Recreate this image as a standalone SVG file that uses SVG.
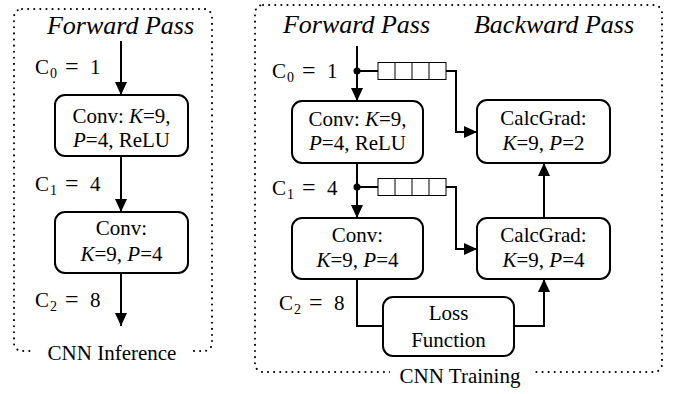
<svg xmlns="http://www.w3.org/2000/svg" width="678" height="394" viewBox="0 0 678 394" font-family="'Liberation Serif', 'Times New Roman', Times, serif">
  <style>
    text { fill: #000; }
    .head { font-size: 26px; font-style: italic; text-anchor: middle; }
    .cap { font-size: 21px; text-anchor: middle; }
    .lbl { font-size: 21px; }
    .sub { font-size: 14px; }
    .eq { font-size: 24px; }
    .box rect { fill: #fff; stroke: #000; stroke-width: 2; }
    .box text { font-size: 21px; text-anchor: middle; }
    .it { font-style: italic; }
    .frame { fill: none; stroke: #000; stroke-width: 2; stroke-dasharray: 0.1 6; stroke-linecap: round; }
    .wire { fill: none; stroke: #000; stroke-width: 2; }
    .arrow { marker-end: url(#head); }
    .queue rect { fill: #fff; stroke: #000; stroke-width: 1; }
    .queue line { stroke: #000; stroke-width: 1; }
  </style>
  <defs>
    <marker id="head" viewBox="0 0 13 12" refX="13" refY="6" markerWidth="13" markerHeight="12" markerUnits="userSpaceOnUse" orient="auto">
      <path d="M0,0 L13,6 L0,12 Z" fill="#000"/>
    </marker>
  </defs>

  <rect width="678" height="394" fill="#fff"/>

  <!-- Dotted frames with their captions -->
  <g id="frame-inference">
    <rect class="frame" x="14" y="9" width="198" height="342" rx="8"/>
    <rect x="34" y="340" width="155" height="24" fill="#fff"/>
    <text class="cap" x="112" y="360">CNN Inference</text>
  </g>
  <g id="frame-training">
    <rect class="frame" x="255" y="5" width="407" height="367" rx="8"/>
    <rect x="390" y="360" width="142" height="28" fill="#fff"/>
    <text class="cap" x="460" y="383">CNN Training</text>
  </g>

  <!-- Column headings -->
  <text class="head" x="120.5" y="34">Forward Pass</text>
  <text class="head" x="356.5" y="33">Forward Pass</text>
  <text class="head" x="554" y="33">Backward Pass</text>

  <!-- Connectors -->
  <g id="connectors">
    <!-- inference chain -->
    <line class="wire arrow" x1="121" y1="41" x2="121" y2="95"/>
    <line class="wire arrow" x1="121" y1="156" x2="121" y2="212"/>
    <line class="wire arrow" x1="121" y1="273" x2="121" y2="326"/>

    <!-- training forward chain -->
    <line class="wire arrow" x1="357" y1="46" x2="357" y2="101"/>
    <line class="wire arrow" x1="357" y1="163" x2="357" y2="218"/>
    <polyline class="wire" points="357,279 357,326 383,326"/>
    <circle cx="357" cy="71" r="3.5"/>
    <circle cx="357" cy="187" r="3.5"/>

    <!-- activations stored for the backward pass -->
    <line class="wire" x1="357" y1="71" x2="378" y2="71"/>
    <polyline class="wire arrow" points="446,71 456,71 456,132 477,132"/>
    <line class="wire" x1="357" y1="187" x2="378" y2="187"/>
    <polyline class="wire arrow" points="446,187 456,187 456,249 477,249"/>

    <!-- backward chain -->
    <polyline class="wire arrow" points="514,326 544,326 544,279"/>
    <line class="wire arrow" x1="544" y1="218" x2="544" y2="163"/>
  </g>

  <!-- Queues -->
  <g id="queue-c0" class="queue">
    <rect x="378" y="62.5" width="68" height="17"/>
    <line x1="395" y1="62.5" x2="395" y2="79.5"/>
    <line x1="412" y1="62.5" x2="412" y2="79.5"/>
    <line x1="429" y1="62.5" x2="429" y2="79.5"/>
  </g>
  <g id="queue-c1" class="queue">
    <rect x="378" y="178.5" width="68" height="17"/>
    <line x1="395" y1="178.5" x2="395" y2="195.5"/>
    <line x1="412" y1="178.5" x2="412" y2="195.5"/>
    <line x1="429" y1="178.5" x2="429" y2="195.5"/>
  </g>

  <!-- Channel labels -->
  <g id="labels" class="lbl">
    <text x="35" y="74">C<tspan class="sub" x="50" dy="4">0</tspan><tspan class="eq" x="65" dy="-4">=</tspan><tspan x="90">1</tspan></text>
    <text x="35" y="191">C<tspan class="sub" x="50" dy="4">1</tspan><tspan class="eq" x="65" dy="-4">=</tspan><tspan x="90">4</tspan></text>
    <text x="35" y="307">C<tspan class="sub" x="50" dy="4">2</tspan><tspan class="eq" x="65" dy="-4">=</tspan><tspan x="90">8</tspan></text>
    <text x="272" y="78">C<tspan class="sub" x="287" dy="4">0</tspan><tspan class="eq" x="302" dy="-4">=</tspan><tspan x="327">1</tspan></text>
    <text x="272" y="195">C<tspan class="sub" x="287" dy="4">1</tspan><tspan class="eq" x="302" dy="-4">=</tspan><tspan x="327">4</tspan></text>
    <text x="279" y="310">C<tspan class="sub" x="294" dy="4">2</tspan><tspan class="eq" x="309" dy="-4">=</tspan><tspan x="334">8</tspan></text>
  </g>

  <!-- Inference nodes -->
  <g id="inf-conv1" class="box">
    <rect x="55" y="95" width="133" height="61" rx="10"/>
    <text x="121.5" y="123">Conv: <tspan class="it">K</tspan>=9,</text>
    <text x="121.5" y="147"><tspan class="it">P</tspan>=4, ReLU</text>
  </g>
  <g id="inf-conv2" class="box">
    <rect x="55" y="212" width="133" height="61" rx="10"/>
    <text x="121.5" y="235">Conv:</text>
    <text x="121.5" y="261"><tspan class="it">K</tspan>=9, <tspan class="it">P</tspan>=4</text>
  </g>

  <!-- Training nodes -->
  <g id="train-conv1" class="box">
    <rect x="292" y="101" width="131" height="62" rx="10"/>
    <text x="357.5" y="126">Conv: <tspan class="it">K</tspan>=9,</text>
    <text x="357.5" y="150"><tspan class="it">P</tspan>=4, ReLU</text>
  </g>
  <g id="train-conv2" class="box">
    <rect x="292" y="218" width="131" height="61" rx="10"/>
    <text x="357.5" y="242">Conv:</text>
    <text x="357.5" y="267"><tspan class="it">K</tspan>=9, <tspan class="it">P</tspan>=4</text>
  </g>
  <g id="calcgrad1" class="box">
    <rect x="477" y="100" width="133" height="63" rx="10"/>
    <text x="543.5" y="125">CalcGrad:</text>
    <text x="543.5" y="150"><tspan class="it">K</tspan>=9, <tspan class="it">P</tspan>=2</text>
  </g>
  <g id="calcgrad2" class="box">
    <rect x="477" y="218" width="133" height="61" rx="10"/>
    <text x="543.5" y="242">CalcGrad:</text>
    <text x="543.5" y="267"><tspan class="it">K</tspan>=9, <tspan class="it">P</tspan>=4</text>
  </g>
  <g id="loss" class="box">
    <rect x="383" y="297" width="131" height="59" rx="10"/>
    <text x="448.5" y="320">Loss</text>
    <text x="448.5" y="347">Function</text>
  </g>
</svg>
